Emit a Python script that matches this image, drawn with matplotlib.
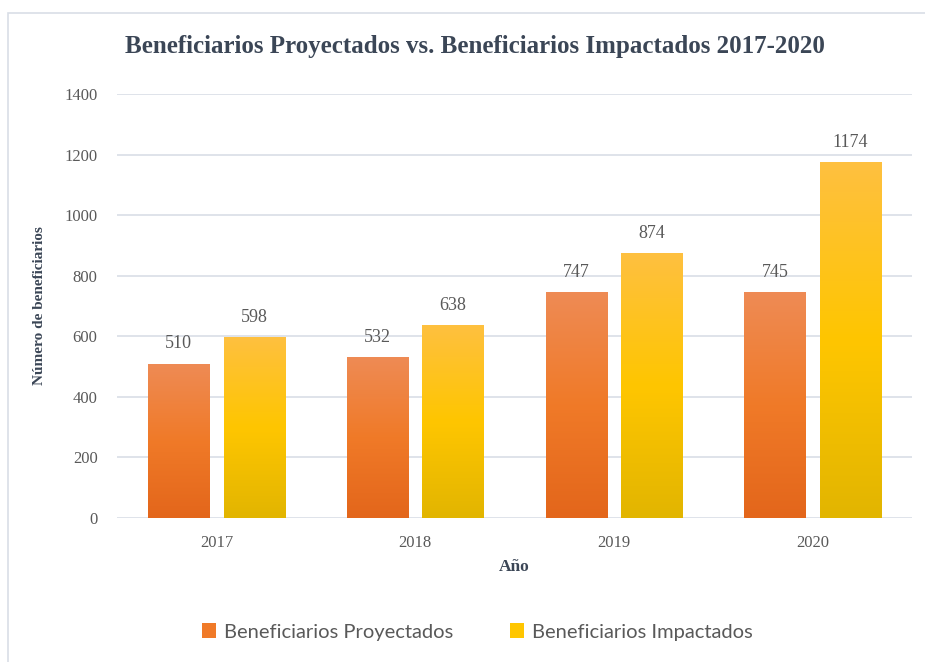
import numpy as np
import matplotlib
matplotlib.use("Agg")
import matplotlib.pyplot as plt
from matplotlib.colors import LinearSegmentedColormap
from matplotlib.patches import Patch, Rectangle

years = ["2017", "2018", "2019", "2020"]
proyectados = [510, 532, 747, 745]
impactados = [598, 638, 874, 1174]
series_names = ["Beneficiarios Proyectados", "Beneficiarios Impactados"]

orange_cmap = LinearSegmentedColormap.from_list("orange", ["#E3661B", "#F07A28", "#EE8B55"])
yellow_cmap = LinearSegmentedColormap.from_list("yellow", ["#E2B500", "#FFC600", "#FEC040"])

text_gray = "#595959"
title_col = "#3B4656"
grid_col = "#D9DEE6"
serif = ["Liberation Serif", "DejaVu Serif"]

fig = plt.figure(figsize=(9.25, 6.62), dpi=100)
ax = fig.add_axes([0.1265, 0.2175, 0.8595, 0.6405])

# outer chart border (top and left edges visible)
fig.patches.append(Rectangle((8 / 925, -0.1), 1.2, 1 - 13 / 662 + 0.1,
                             transform=fig.transFigure, fill=False,
                             edgecolor=grid_col, linewidth=1.2))

x = np.arange(len(years))
w = 0.307
off = 0.19

grad = np.linspace(0, 1, 256).reshape(-1, 1)


def gradient_bars(bars, cmap):
    for b in bars:
        b.set_facecolor("none")
        b.set_edgecolor("none")
        x0, y0 = b.get_x(), b.get_y()
        im = ax.imshow(grad, cmap=cmap, origin="lower", aspect="auto",
                       extent=(x0, x0 + b.get_width(), y0, y0 + b.get_height()),
                       zorder=2)
        im.set_clip_path(b)


b1 = ax.bar(x - off, proyectados, w, zorder=2)
b2 = ax.bar(x + off, impactados, w, zorder=2)
gradient_bars(b1, orange_cmap)
gradient_bars(b2, yellow_cmap)

for bars, vals in ((b1, proyectados), (b2, impactados)):
    for b, v in zip(bars, vals):
        ax.annotate(str(v), (b.get_x() + b.get_width() / 2, v),
                    xytext=(0, 8), textcoords="offset points",
                    ha="center", va="bottom", fontsize=13,
                    family=serif, color=text_gray)

ax.set_xlim(-0.5, len(years) - 0.5)
ax.set_ylim(0, 1400)
ax.set_yticks(range(0, 1401, 200))
ax.set_xticks(x)
ax.set_xticklabels(years)
ax.tick_params(length=0, labelsize=12, labelcolor=text_gray, pad=12)
for lab in ax.get_xticklabels() + ax.get_yticklabels():
    lab.set_family(serif)
ax.tick_params(axis="y", pad=14)

ax.grid(axis="y", color=grid_col, linewidth=1.2, zorder=0)
ax.set_axisbelow(True)
for s in ax.spines.values():
    s.set_visible(False)

ax.set_xlabel("Año", fontsize=12.5, fontweight="bold", family=serif,
              color=title_col, labelpad=6)
ax.set_ylabel("Número de beneficiarios", fontsize=11, fontweight="bold",
              family=serif, color=title_col, labelpad=13)

fig.text(0.513, 1 - 47 / 662, "Beneficiarios Proyectados vs. Beneficiarios Impactados 2017-2020",
         ha="center", va="center", fontsize=18, fontweight="bold",
         family=serif, color=title_col)

handles = [Patch(facecolor="#F07A28"), Patch(facecolor="#FFC600")]
fig.legend(handles, series_names, loc="center", bbox_to_anchor=(0.516, 1 - 632 / 662),
           ncol=2, frameon=False, handlelength=0.7, handleheight=0.7,
           handletextpad=0.4, columnspacing=2.8,
           prop={"family": ["Lato", "DejaVu Sans"], "size": 14.5}, labelcolor=text_gray)

fig.savefig("out.png", dpi=100)
